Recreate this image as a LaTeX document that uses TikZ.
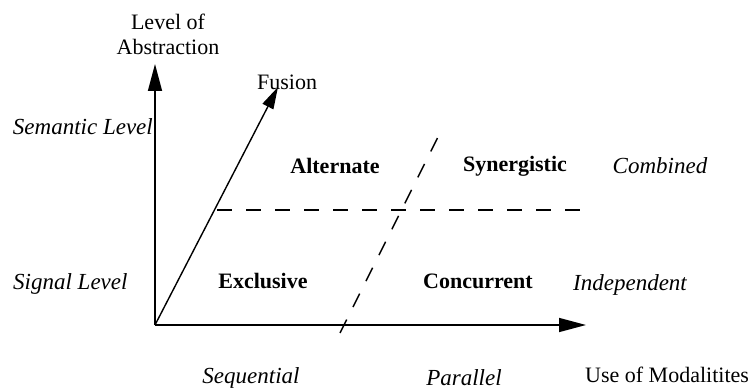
\documentclass[tikz,border=0pt]{standalone}
\usepackage{fontspec}
\setmainfont{Liberation Serif}
\usetikzlibrary{arrows.meta}
\begin{document}
\begin{tikzpicture}[x=1pt,y=-1pt,
  lbl/.style={inner sep=0pt,font=\fontsize{22}{25}\selectfont},
  ilbl/.style={lbl,font=\fontsize{23}{26}\selectfont\itshape},
  blbl/.style={lbl,font=\fontsize{22}{25}\selectfont\bfseries},
  axis/.style={line width=1.5pt,-{Triangle[length=27pt,width=14pt]}},
  divider/.style={line width=1.4pt,dash pattern=on 15pt off 14pt}]
\useasboundingbox (0,0) rectangle (754,390);
\coordinate (O) at (155,325);
\coordinate (ytip) at (155,64);
\coordinate (xtip) at (586,325);
\coordinate (ftip) at (278,87);
\coordinate (hs) at (217,210);
\coordinate (he) at (587,210);
\coordinate (ss) at (340,333);
\coordinate (se) at (443,127);
\draw[axis] (O) -- (ytip);
\draw[axis] (O) -- (xtip);
\draw[line width=1.4pt,-{Triangle[length=22pt,width=12pt]}] (O) -- (ftip);
\draw[divider] (hs) -- (he);
\draw[divider] (ss) -- (se);
\node[lbl,align=center] (loa) at (168,34) {Level of\\Abstraction};
\node[lbl,anchor=west] (fus) at (257,82) {Fusion};
\node[ilbl,anchor=east] (sem) at (153,127) {Semantic Level};
\node[ilbl,anchor=west] (sig) at (13,284) {Signal Level};
\node[blbl] (alt) at (335,166) {Alternate};
\node[blbl] (syn) at (515,166) {Synergistic};
\node[ilbl] (com) at (660,166) {Combined};
\node[blbl] (exc) at (263,281) {Exclusive};
\node[blbl] (con) at (478,281) {Concurrent};
\node[ilbl] (ind) at (630,285) {Independent};
\node[ilbl] (seq) at (251,378) {Sequential};
\node[ilbl] (par) at (464,378) {Parallel};
\node[lbl,anchor=west] (use) at (585,375) {Use of Modalitites};
\end{tikzpicture}
\end{document}
